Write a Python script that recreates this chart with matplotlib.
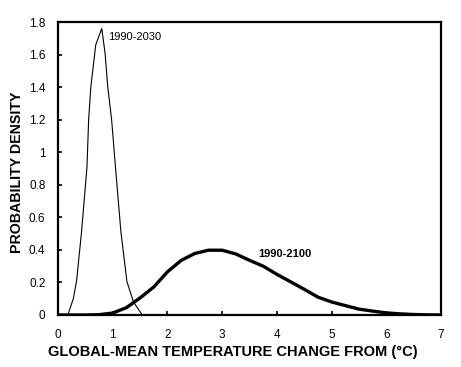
import matplotlib.pyplot as plt

plt.rcParams['font.family'] = ['Liberation Sans', 'DejaVu Sans']

# 1990-2030 curve
x_2030 = [0.18, 0.28, 0.34, 0.43, 0.53, 0.56, 0.60, 0.69, 0.80, 0.86, 0.91, 0.98, 1.05, 1.15, 1.26, 1.38, 1.54]
y_2030 = [0.0, 0.10, 0.21, 0.51, 0.91, 1.20, 1.40, 1.66, 1.76, 1.61, 1.40, 1.20, 0.91, 0.51, 0.205, 0.08, 0.0]

# 1990-2100 curve
x_2100 = [0.0, 0.5, 0.75, 1.0, 1.25, 1.5, 1.75, 2.0, 2.25, 2.5, 2.75, 3.0, 3.25, 3.5, 3.75,
          4.0, 4.25, 4.5, 4.75, 5.0, 5.25, 5.5, 5.75, 6.0, 6.25, 6.5, 6.75, 7.0]
y_2100 = [0.0, 0.0, 0.002, 0.012, 0.045, 0.105, 0.172, 0.265, 0.335, 0.378, 0.398, 0.398, 0.375, 0.336, 0.30,
          0.25, 0.204, 0.158, 0.11, 0.08, 0.058, 0.036, 0.024, 0.013, 0.007, 0.003, 0.001, 0.0]

xticks = [0, 1, 2, 3, 4, 5, 6, 7]
yticks = [0, 0.2, 0.4, 0.6, 0.8, 1.0, 1.2, 1.4, 1.6, 1.8]
ytick_labels = ['0', '0.2', '0.4', '0.6', '0.8', '1', '1.2', '1.4', '1.6', '1.8']

fig = plt.figure(figsize=(4.61, 3.67), dpi=100)
ax = fig.add_axes([0.1258, 0.1417, 0.8308, 0.7983])

ax.plot(x_2030, y_2030, color='black', lw=0.8)
ax.plot(x_2100, y_2100, color='black', lw=2.4, solid_capstyle='butt')

ax.text(0.92, 1.705, '1990-2030', fontsize=8, va='center', ha='left')
ax.text(3.66, 0.375, '1990-2100', fontsize=8, fontweight='bold', va='center', ha='left')

ax.set_xlim(0, 7)
ax.set_ylim(0, 1.8)
ax.set_xticks(xticks)
ax.set_yticks(yticks)
ax.set_yticklabels(ytick_labels)
ax.tick_params(direction='in', length=3, width=1.2, labelsize=8.5)
ax.tick_params(axis='x', pad=10)
ax.tick_params(axis='y', pad=9)
for s in ax.spines.values():
    s.set_linewidth(1.6)

fig.text(0.505, 0.04, 'GLOBAL-MEAN TEMPERATURE CHANGE FROM (°C)', fontsize=10.5,
         fontweight='bold', ha='center', va='center')
fig.text(0.036, 0.53, 'PROBABILITY DENSITY', fontsize=10.2, fontweight='bold',
         rotation=90, ha='center', va='center')

fig.savefig('out.png', dpi=100)
